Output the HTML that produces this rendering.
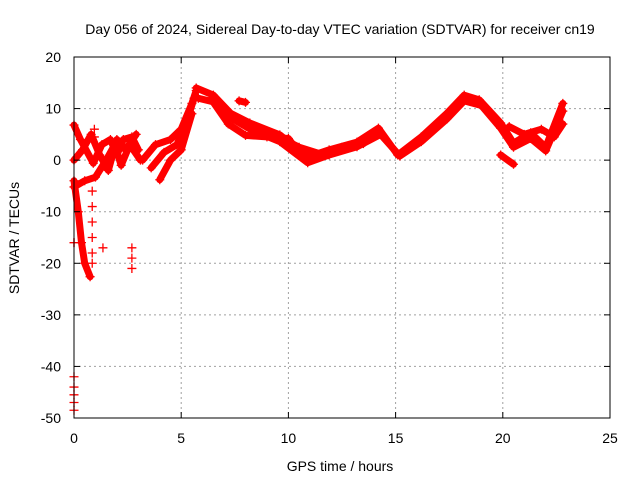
<!DOCTYPE html>
<html><head><meta charset="utf-8"><style>
body{margin:0;background:#fff;font-family:"Liberation Sans",sans-serif}
svg text{font-family:"Liberation Sans",sans-serif;font-size:14px;fill:#000}
</style></head><body>
<svg width="640" height="480">
<rect width="640" height="480" fill="#fff"/>
<g id="grid"></g><g id="marks"></g><g id="axes"></g>
<text x="340" y="34" text-anchor="middle">Day 056 of 2024, Sidereal Day-to-day VTEC variation (SDTVAR) for receiver cn19</text>
<text x="340" y="471" text-anchor="middle">GPS time / hours</text>
<text transform="translate(19,238) rotate(-90)" text-anchor="middle">SDTVAR / TECUs</text>
</svg>
<script>
const xTicks=[0,5,10,15,20,25];
const yTicks=[-50,-40,-30,-20,-10,0,10,20];
// band series: [hours, TECU]
const bandMain=[[5.7,14],[6.5,12.6],[7.3,9.1],[8.2,7.2],[9.6,4.9],[10.9,0.6],[11.9,2],[13.2,3.5],[14.2,6.2],[15.1,1],[16.2,4.5],[17.4,9.1],[18.2,12.6],[18.9,11.7],[19.9,7.2],[20.5,3.3],[21.3,5.3],[22,2.5],[22.8,11]];
const bandMain2=[[5.8,12],[6.6,11.2],[7.4,8],[8.3,5.8],[9.6,3.6],[10.9,-0.5],[11.9,1],[13.2,2.6],[14.3,5],[15.2,0.8],[16.2,3.6],[17.4,8],[18.2,11.5],[19,10.6],[19.9,6.2],[20.5,2.5],[21.3,4.2],[22,1.8],[22.8,9.5]];
const bandLow=[[6.4,11.8],[7.2,7],[8.0,4.8],[9.0,4.5],[10.0,4.2],[10.4,2]];
const bandLoop=[[9.8,4],[10.5,2.5],[11.5,1.2],[12.5,2.5],[13.5,3.2]];
const bandRight=[[20.3,6.5],[21,5],[21.8,6],[22.4,4.5],[22.8,7]];
const bandRise=[[3.2,0],[3.8,3],[4.5,4],[5.0,6],[5.5,11],[5.7,13.5]];
const bandRise2=[[3.6,-1.5],[4.2,1.5],[4.8,3],[5.3,8],[5.6,12]];
const bandRise3=[[4.0,-3.8],[4.5,0],[5.0,2],[5.5,9]];
const bandEarly=[[0,6.8],[0.3,4],[0.9,-0.6],[1.3,3],[1.7,4],[2.0,1],[2.3,4],[2.7,4.5],[3.0,2]];
const bandEarly2=[[0,-5.2],[0.5,-4],[1.0,-3.3],[1.5,0],[1.9,3],[2.2,-1],[2.6,3],[3.1,0]];
const bandEarly3=[[0,0],[0.4,2],[0.8,5],[1.2,1],[1.6,-2],[2.0,4],[2.4,2],[2.9,5]];
const bandDrop=[[0,-4],[0.2,-10],[0.35,-16],[0.5,-20],[0.75,-22.6]];
const bandLate=[[19.9,1],[20.5,-0.8]];
const bandSpot=[[7.7,11.5],[8.0,11.2]];
const dotsX=[0,0,0,0,0,0,0.85,0.85,0.85,0.85,0.85,0.85,2.7,2.7,2.7,1.35,0,0.95,0.95];
const dotsY=[-42,-44,-45.5,-47,-48.5,-16,-6,-9,-12,-15,-18,-20,-17,-19,-21,-17,-16,4.5,6];
const sx=h=>74+h*536/25, sy=v=>57+(20-v)*361/70;
const NS="http://www.w3.org/2000/svg";
const grid=document.getElementById('grid'),marks=document.getElementById('marks'),axes=document.getElementById('axes');
function mk(tag,a,p){const e=document.createElementNS(NS,tag);for(const k in a)e.setAttribute(k,a[k]);p.appendChild(e);return e;}
xTicks.forEach(t=>{const x=sx(t);
 if(t>0&&t<25){const g=mk('line',{x1:x,x2:x,y1:57,y2:418,stroke:'#a0a0a0','stroke-dasharray':'2,3'},grid);
 }
 const tx=mk('text',{x:x,y:443,'text-anchor':'middle'},axes);tx.textContent=t;
 
 mk('line',{x1:x,x2:x,y1:418,y2:412,stroke:'#000'},axes);mk('line',{x1:x,x2:x,y1:57,y2:63,stroke:'#000'},axes);});
yTicks.forEach(t=>{const y=sy(t);
 if(t>-50&&t<20){const g=mk('line',{x1:74,x2:610,y1:y,y2:y,stroke:'#a0a0a0','stroke-dasharray':'2,3'},grid);
 }
 const tx=mk('text',{x:61,y:y+5,'text-anchor':'end'},axes);tx.textContent=t;
 
 mk('line',{x1:74,x2:80,y1:y,y2:y,stroke:'#000'},axes);mk('line',{x1:610,x2:604,y1:y,y2:y,stroke:'#000'},axes);});
const frame=mk('rect',{x:74,y:57,width:536,height:361,fill:'none',stroke:'#000'},axes);

function plus(x,y){mk('path',{d:`M${x-4.5},${y}h9M${x},${y-4.5}v9`,stroke:'#f00','stroke-width':1.3},marks);}
[bandMain,bandMain2,bandLow,bandLoop,bandRight,bandRise,bandRise2,bandRise3,bandEarly,bandEarly2,bandEarly3,bandDrop,bandLate,bandSpot].forEach(s=>{
 const pl=mk('polyline',{points:s.map(p=>sx(p[0])+','+sy(p[1])).join(' '),fill:'none',stroke:'#f00','stroke-width':7,'stroke-linejoin':'round','stroke-linecap':'round'},marks);
 
 s.forEach(p=>plus(sx(p[0]),sy(p[1])));});
dotsX.forEach((h,i)=>plus(sx(h),sy(dotsY[i])));
</script>
</body></html>
